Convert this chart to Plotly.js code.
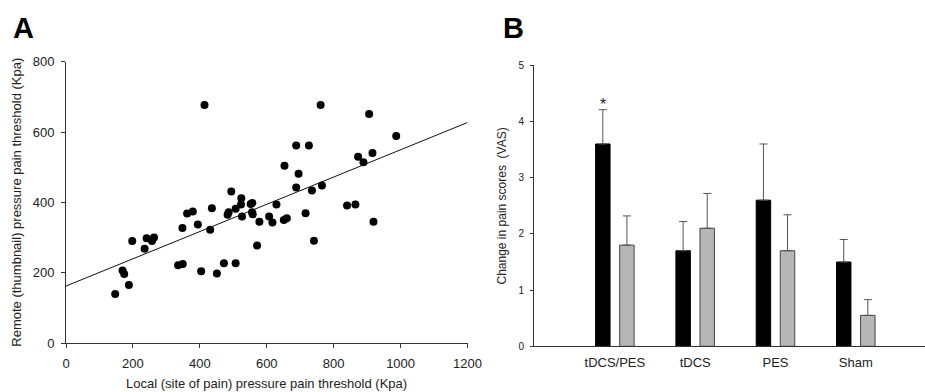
<!DOCTYPE html>
<html>
<head>
<meta charset="utf-8">
<script src="https://cdn.plot.ly/plotly-3.0.1.min.js"></script>
<style>html,body{margin:0;padding:0;background:#fff;}#chart{width:925px;height:392px;}</style>
</head>
<body>
<div id="chart"></div>
<script>
// Panel A: scatter data (Kpa)
const localPPT = [147,169,174,188,198,235,241,257,263,335,349,348,362,379,394,404,414,431,436,451,472,483,486,494,507,507,524,523,526,552,557,556,558,571,578,607,617,629,651,660,653,688,688,695,716,726,735,741,761,765,840,865,873,889,906,916,919,987];
const remotePPT = [139,206,196,165,290,268,298,290,300,221,225,327,368,374,337,204,677,322,383,198,227,365,372,431,382,227,412,394,360,395,398,372,366,277,345,360,343,394,350,355,504,562,442,481,369,562,434,291,677,448,391,394,530,514,651,540,345,589];
// Regression line endpoints
const fitX = [0, 1200];
const fitY = [162, 627];

// Panel B: bar data
const groups = ['tDCS/PES', 'tDCS', 'PES', 'Sham'];
const blackVals = [3.6, 1.7, 2.6, 1.5];
const blackErr = [0.61, 0.52, 1.0, 0.4];
const greyVals = [1.8, 2.1, 1.7, 0.55];
const greyErr = [0.52, 0.62, 0.64, 0.28];

const FONT = 'Arial, "Liberation Sans", sans-serif';
const AX = '#333';
const W = 925, H = 392;

const traces = [
  {type:'scatter', mode:'markers', x: localPPT, y: remotePPT, xaxis:'x', yaxis:'y',
   marker:{color:'#000', size:8}, showlegend:false, hoverinfo:'x+y'},
  {type:'scatter', mode:'lines', x: fitX, y: fitY, xaxis:'x', yaxis:'y',
   line:{color:'#111', width:1}, showlegend:false},
  {type:'bar', x: groups, y: blackVals, xaxis:'x2', yaxis:'y2', name:'black',
   marker:{color:'#000', line:{color:'#000', width:1}},
   error_y:{type:'data', symmetric:false, array: blackErr, arrayminus: blackErr.map(()=>0), color:'#555', thickness:1, width:4},
   showlegend:false},
  {type:'bar', x: groups, y: greyVals, xaxis:'x2', yaxis:'y2', name:'grey',
   marker:{color:'#b6b6b6', line:{color:'#444', width:1}},
   error_y:{type:'data', symmetric:false, array: greyErr, arrayminus: greyErr.map(()=>0), color:'#555', thickness:1, width:4},
   showlegend:false}
];

const layout = {
  width: W, height: H,
  margin:{l:0, r:0, t:0, b:0},
  paper_bgcolor:'#fff', plot_bgcolor:'#fff',
  font:{family: FONT, color:'#222', size:13},
  showlegend:false,
  barmode:'group', bargap:0.4, bargroupgap:0.4,
  xaxis:{domain:[66/W, 467.5/W], range:[0,1200], tickvals:[0,200,400,600,800,1000,1200],
    showgrid:false, zeroline:false, showline:true, linecolor:AX, linewidth:1,
    ticks:'outside', ticklen:4, tickcolor:AX, tickfont:{size:13, color:'#222'}, ticklabelstandoff:4,
    fixedrange:true, anchor:'y'},
  yaxis:{domain:[1-343/H, 1-61.7/H], range:[0,800], tickvals:[0,200,400,600,800],
    showgrid:false, zeroline:false, showline:true, linecolor:AX, linewidth:1,
    ticks:'outside', ticklen:4, tickcolor:AX, tickfont:{size:13, color:'#222'}, ticklabelstandoff:4,
    fixedrange:true, anchor:'x'},
  xaxis2:{domain:[534/W, 1], range:[-1.007, 3.862], type:'category',
    showgrid:false, zeroline:false, showline:true, linecolor:AX, linewidth:1,
    ticks:'', tickfont:{size:13, color:'#222'}, ticklabelstandoff:4,
    fixedrange:true, anchor:'y2'},
  yaxis2:{domain:[1-346.3/H, 1-65.3/H], range:[0,5], tickvals:[0,1,2,3,4,5],
    showgrid:false, zeroline:false, showline:true, linecolor:AX, linewidth:1,
    ticks:'outside', ticklen:3, tickcolor:AX, tickfont:{size:10, color:'#222'}, ticklabelstandoff:4,
    fixedrange:true, anchor:'x2'},
  annotations:[
    {text:'<b>A</b>', xref:'paper', yref:'paper', x:11/W, y:1-28/H, xanchor:'left', yanchor:'middle',
     showarrow:false, font:{size:29, color:'#000', family:FONT}},
    {text:'<b>B</b>', xref:'paper', yref:'paper', x:501/W, y:1-28/H, xanchor:'left', yanchor:'middle',
     showarrow:false, font:{size:29, color:'#000', family:FONT}},
    {text:'Remote (thumbnail) pressure pain threshold (Kpa)', xref:'paper', yref:'paper',
     x:16.7/W, y:1-202/H, xanchor:'center', yanchor:'middle', textangle:-90, showarrow:false,
     font:{size:13, color:'#222'}},
    {text:'Local (site of pain) pressure pain threshold (Kpa)', xref:'paper', yref:'paper',
     x:266.8/W, y:1-383/H, xanchor:'center', yanchor:'middle', showarrow:false,
     font:{size:13, color:'#222'}},
    {text:'Change in pain scores  (VAS)', xref:'paper', yref:'paper',
     x:501.7/W, y:1-205.8/H, xanchor:'center', yanchor:'middle', textangle:-90, showarrow:false,
     font:{size:12, color:'#222'}},
    {text:'*', xref:'x2', yref:'y2', x:-0.15, y:4.3, xanchor:'center', yanchor:'middle', showarrow:false,
     font:{size:16, color:'#222'}}
  ]
};

Plotly.newPlot('chart', traces, layout, {displayModeBar:false, staticPlot:true});
</script>
</body>
</html>
